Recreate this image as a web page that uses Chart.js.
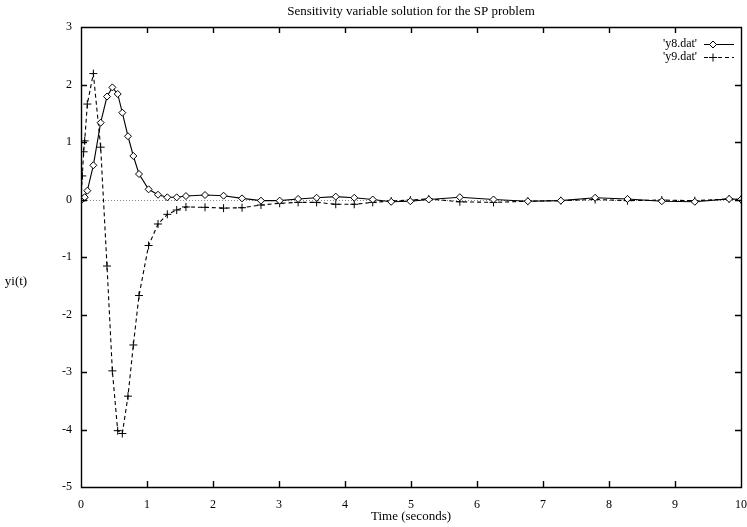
<!DOCTYPE html>
<html><head><meta charset="utf-8">
<script src="https://cdn.jsdelivr.net/npm/chart.js@4/dist/chart.umd.min.js"></script>
<style>html,body{margin:0;padding:0;background:#fff;overflow:hidden}#wrap{width:747px;height:527px}</style>
</head><body><div id="wrap"><canvas id="c" width="747" height="527"></canvas></div>
<script>
const titleText = "Sensitivity variable solution for the SP problem";
const xTitle = "Time (seconds)";
const yTitle = "yi(t)";
const seriesNames = ["'y8.dat'", "'y9.dat'"];
const xTicks = [0,1,2,3,4,5,6,7,8,9,10];
const yTicks = [-5,-4,-3,-2,-1,0,1,2,3];
const t  = [0,0.02,0.04,0.056,0.096,0.187,0.298,0.394,0.475,0.556,0.626,0.712,0.793,0.879,1.024,1.167,1.308,1.45,1.59,1.879,2.16,2.44,2.727,3.01,3.29,3.57,3.86,4.14,4.42,4.70,4.99,5.27,5.74,6.25,6.77,7.27,7.79,8.28,8.8,9.3,9.82,10];
const y8 = [0,0.005,0.02,0.04,0.153,0.595,1.336,1.79,1.95,1.835,1.51,1.10,0.757,0.443,0.177,0.083,0.038,0.038,0.06,0.078,0.066,0.02,-0.02,-0.02,0.01,0.03,0.05,0.03,0.0,-0.04,-0.03,0.0,0.04,0.0,-0.03,-0.02,0.03,0.01,-0.03,-0.04,0.01,0.0];
const y9 = [0,0.41,0.83,1.02,1.66,2.19,0.91,-1.157,-2.98,-4.02,-4.07,-3.42,-2.53,-1.67,-0.80,-0.426,-0.258,-0.183,-0.13,-0.136,-0.15,-0.143,-0.096,-0.066,-0.05,-0.05,-0.083,-0.083,-0.05,-0.026,-0.01,0.01,-0.04,-0.05,-0.03,-0.02,0.0,-0.02,-0.01,-0.02,0.01,0.0];

const FONT = "'Liberation Serif', serif";
const d8 = t.map((x,i)=>({x, y:y8[i]}));
const d9 = t.map((x,i)=>({x, y:y9[i]}));

const deco = {
  id:'deco',
  beforeDatasetsDraw(chart){
    const {ctx, scales:{x, y}} = chart;
    ctx.save();
    ctx.strokeStyle = '#888'; ctx.lineWidth = 1; ctx.setLineDash([1,2]);
    const y0 = Math.round(y.getPixelForValue(0))+0.5;
    ctx.beginPath(); ctx.moveTo(x.getPixelForValue(0), y0); ctx.lineTo(x.getPixelForValue(10), y0); ctx.stroke();
    ctx.restore();
  },
  afterDraw(chart){
    const {ctx, scales:{x, y}} = chart;
    ctx.save();
    const L = Math.round(x.getPixelForValue(0)), R = Math.round(x.getPixelForValue(10));
    const T = Math.round(y.getPixelForValue(3)), B = Math.round(y.getPixelForValue(-5));
    ctx.strokeStyle = '#000'; ctx.lineWidth = 1.4; ctx.setLineDash([]);
    ctx.beginPath();
    ctx.rect(L+0.5, T+0.5, R-L, B-T);
    xTicks.forEach(v=>{ const px = Math.round(x.getPixelForValue(v))+0.5;
      ctx.moveTo(px, B); ctx.lineTo(px, B-6); ctx.moveTo(px, T); ctx.lineTo(px, T+6); });
    yTicks.forEach(v=>{ const py = Math.round(y.getPixelForValue(v))+0.5;
      ctx.moveTo(L, py); ctx.lineTo(L+6, py); ctx.moveTo(R, py); ctx.lineTo(R-6, py); });
    ctx.stroke();
    ctx.fillStyle = '#000';
    ctx.font = "13px " + FONT;
    ctx.textAlign = 'center'; ctx.textBaseline = 'middle';
    ctx.fillText(titleText, (L+R)/2, 12);
    ctx.fillText(xTitle, (L+R)/2, 517);
    ctx.fillText(yTitle, 16, 282);
    ctx.font = "12px " + FONT;
    const items = [
      {name:seriesNames[0], ds:chart.data.datasets[0], yy:44},
      {name:seriesNames[1], ds:chart.data.datasets[1], yy:57}
    ];
    items.forEach(it=>{
      ctx.textAlign='right'; ctx.fillStyle='#000';
      ctx.fillText(it.name, 697, it.yy);
      ctx.strokeStyle='#000'; ctx.lineWidth=1; ctx.setLineDash(it.ds.borderDash||[]);
      ctx.beginPath(); ctx.moveTo(704, it.yy+0.5); ctx.lineTo(734, it.yy+0.5); ctx.stroke();
      ctx.setLineDash([]);
      ctx.fillStyle = it.ds.pointBackgroundColor || '#fff';
      Chart.helpers.drawPoint(ctx, {pointStyle: it.ds.pointStyle, radius: it.ds.pointRadius, borderWidth:1, rotation:0}, 713, it.yy+0.5);
    });
    ctx.restore();
  }
};

function make(){
new Chart(document.getElementById('c'), {
  type:'scatter',
  data:{datasets:[
    {label:seriesNames[0], data:d8, showLine:true, borderColor:'#000', borderWidth:1.1, pointStyle:'rectRot', pointRadius:3.5, pointBackgroundColor:'#fff', pointBorderColor:'#000', pointBorderWidth:1},
    {label:seriesNames[1], data:d9, showLine:true, borderColor:'#000', borderWidth:1.1, borderDash:[4,3], pointStyle:'cross', pointRadius:4, pointBorderColor:'#000', pointBorderWidth:1}
  ]},
  options:{
    responsive:false, animation:false, devicePixelRatio:1,
    layout:{padding:{left:0, right:0, top:27, bottom:0}},
    plugins:{legend:{display:false}, title:{display:false}, tooltip:{enabled:false}},
    scales:{
      x:{type:'linear', min:0, max:10, afterBuildTicks:s=>{s.ticks = xTicks.map(v=>({value:v}));},
         grid:{display:false, drawTicks:false}, border:{display:false},
         ticks:{color:'#000', font:{family:FONT, size:12}, padding:11, maxRotation:0},
         afterFit:s=>{s.height = 40; s.paddingRight = 6; s.paddingLeft = 0;}},
      y:{type:'linear', min:-5, max:3, afterBuildTicks:s=>{s.ticks = yTicks.map(v=>({value:v}));},
         grid:{display:false, drawTicks:false}, border:{display:false},
         ticks:{color:'#000', font:{family:FONT, size:12}, padding:9},
         afterFit:s=>{s.width = 81; s.paddingTop = 0; s.paddingBottom = 0;}}
    }
  },
  plugins:[deco]
});
}
(document.fonts && document.fonts.load ? Promise.all([document.fonts.load("12px 'Liberation Serif'"), document.fonts.load("13px 'Liberation Serif'")]) : Promise.resolve()).then(make, make);
</script></body></html>
